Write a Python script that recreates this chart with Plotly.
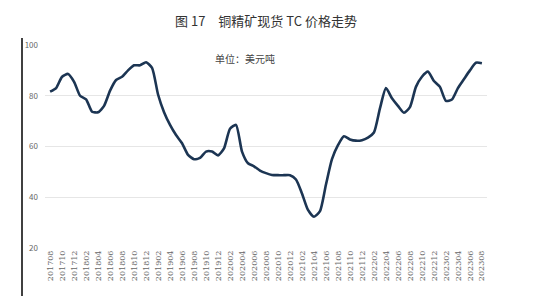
import plotly.graph_objects as go

# monthly categories 201708 .. 202308
months = []
y, m = 2017, 8
while (y, m) <= (2023, 8):
    months.append(f"{y}{m:02d}")
    m += 1
    if m > 12:
        m = 1
        y += 1

tc_price = [
    81.6, 83.0, 87.5, 88.6, 85.5, 80.0, 78.6, 73.7, 73.5, 76.0,
    82.0, 86.2, 87.5, 90.0, 92.0, 92.0, 93.2, 91.0, 80.5, 73.5,
    68.5, 64.5, 61.3, 56.7, 55.0, 55.5, 58.0, 58.0, 56.5, 59.3,
    67.0, 68.5, 58.0, 53.4, 52.2, 50.5, 49.5, 48.8, 48.7, 48.7,
    48.7, 47.0, 41.5, 35.0, 32.3, 34.5, 45.0, 55.0, 60.5, 64.0,
    62.8, 62.3, 62.5, 63.5, 65.5, 75.0, 83.0, 79.0, 76.0, 73.3,
    75.5, 83.5, 87.5, 89.5, 85.8, 83.5, 78.0, 78.5, 83.0, 86.5,
    90.0, 93.0, 92.8,
]

tick_labels = months[::2]
y_ticks = [20, 40, 60, 80, 100]

title_text = "图 17　铜精矿现货 TC 价格走势"
unit_text = "单位：美元吨"

fig = go.Figure()
fig.add_trace(go.Scatter(
    x=months, y=tc_price, mode="lines",
    line=dict(color="#1c3553", width=2.6, shape="spline", smoothing=0.6),
    hoverinfo="skip", showlegend=False,
))

fig.update_layout(
    width=539, height=296,
    margin=dict(l=45, r=52, t=45, b=48),
    paper_bgcolor="white", plot_bgcolor="white",
    font=dict(family="Noto Sans CJK SC, DejaVu Sans", color="#555"),
    xaxis=dict(
        type="category", range=[-0.85, 72.85],
        tickmode="array", tickvals=tick_labels, ticktext=tick_labels,
        tickangle=-90, tickfont=dict(size=8, color="#666", family="DejaVu Serif"),
        showgrid=False, zeroline=False, showline=False, ticks="",
    ),
    yaxis=dict(
        range=[20, 100], tickvals=y_ticks,
        tickfont=dict(size=8, color="#666"),
        showgrid=True, gridcolor="#e6e6e6", gridwidth=1,
        zeroline=False, showline=False, ticks="", ticklabelstandoff=6,
    ),
    annotations=[
        dict(text=title_text, x=0.5, y=20, xref="paper", yref="paper",
             showarrow=False, font=dict(size=13, color="#333",
                                        family="Noto Sans CJK SC")),
        dict(text=unit_text, x=245, y=58, xref="paper", yref="paper",
             showarrow=False, font=dict(size=10, color="#444",
                                        family="Noto Sans CJK SC")),
    ],
    shapes=[
        dict(type="line", xref="paper", yref="paper",
             x0=22, x1=22, y0=38, y1=296, line=dict(color="black", width=1.5)),
    ],
)

# convert pixel positions to paper coordinates
pw = 539 - 45 - 52
ph = 296 - 45 - 48
for a in fig.layout.annotations:
    px, py = a.x, a.y
    if a.text == title_text:
        a.y = (296 - 48 - py) / ph
        a.yanchor = "middle"
    else:
        a.x = (px - 45) / pw
        a.y = (296 - 48 - py) / ph
        a.yanchor = "middle"
for s in fig.layout.shapes:
    s.x0 = (s.x0 - 45) / pw
    s.x1 = (s.x1 - 45) / pw
    s.y0 = (296 - 48 - s.y0) / ph
    s.y1 = (296 - 48 - s.y1) / ph

fig.write_html("out.html")
